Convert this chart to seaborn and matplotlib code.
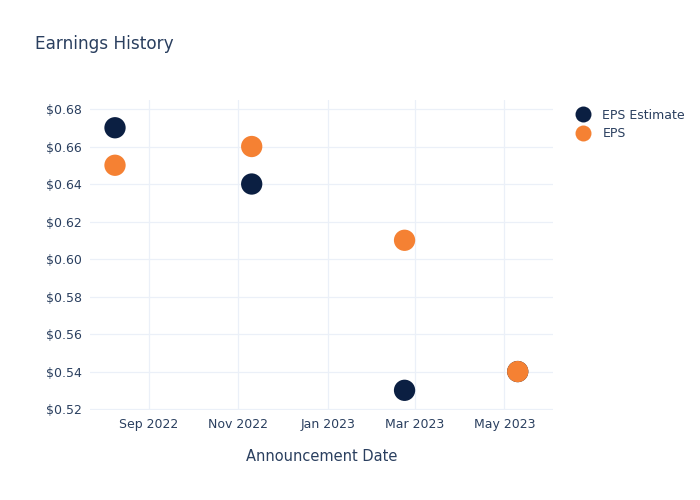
import matplotlib
matplotlib.use("Agg")
import matplotlib.pyplot as plt
import matplotlib.dates as mdates
import seaborn as sns
import pandas as pd
import numpy as np

dates = ["2022-08-09", "2022-11-10", "2023-02-22", "2023-05-10"]
eps_estimate = [0.67, 0.64, 0.53, 0.54]
eps_actual = [0.65, 0.66, 0.61, 0.54]
series_names = ["EPS Estimate", "EPS"]
colors = ["#0b1f42", "#f58133"]

df = pd.DataFrame({
    "date": pd.to_datetime(dates * 2),
    "value": eps_estimate + eps_actual,
    "series": [series_names[0]] * len(dates) + [series_names[1]] * len(dates),
})

sns.set_theme(style="white")
plt.rcParams["font.family"] = ["DejaVu Sans"]
text_color = "#2a3f5f"
grid_color = "#ebf0f8"

fig = plt.figure(figsize=(7, 5), dpi=100)
ax = fig.add_axes([0.1286, 0.18, 0.79 - 0.1286, 0.62])

sns.scatterplot(data=df, x="date", y="value", hue="series",
                palette=dict(zip(series_names, colors)), s=235,
                edgecolor="none", ax=ax, legend=False, zorder=3)

ax.set_xlim(pd.Timestamp("2022-07-23"), pd.Timestamp("2023-06-03"))
ax.set_ylim(0.5195, 0.6848)
ax.set_yticks(np.arange(0.52, 0.681, 0.02))
ax.yaxis.set_major_formatter(matplotlib.ticker.FuncFormatter(lambda v, p: f"${v:.2f}"))
ticks = pd.to_datetime(["2022-09-01", "2022-11-01", "2023-01-01", "2023-03-01", "2023-05-01"])
ax.set_xticks(ticks)
ax.xaxis.set_major_formatter(mdates.DateFormatter("%b %Y"))

ax.grid(True, color=grid_color, linewidth=0.9)
ax.set_axisbelow(True)
for sp in ax.spines.values():
    sp.set_visible(False)
ax.tick_params(axis="both", colors=text_color, labelsize=9, length=0, pad=6)
ax.set_xlabel("Announcement Date", color=text_color, fontsize=10.5, labelpad=13)
ax.set_ylabel("")

fig.text(0.05, 0.912, "Earnings History", color=text_color, fontsize=12.2, va="center")

from matplotlib.lines import Line2D
handles = [Line2D([], [], marker="o", linestyle="", markersize=11.5, markerfacecolor=c,
                  markeredgecolor="none") for c in colors]
leg = fig.legend(handles, series_names, loc="upper left", bbox_to_anchor=(0.808, 0.805),
                 frameon=False, fontsize=9, labelcolor=text_color, handletextpad=1.05,
                 labelspacing=0.45, handlelength=1.0)

fig.savefig("out.png", dpi=100)
